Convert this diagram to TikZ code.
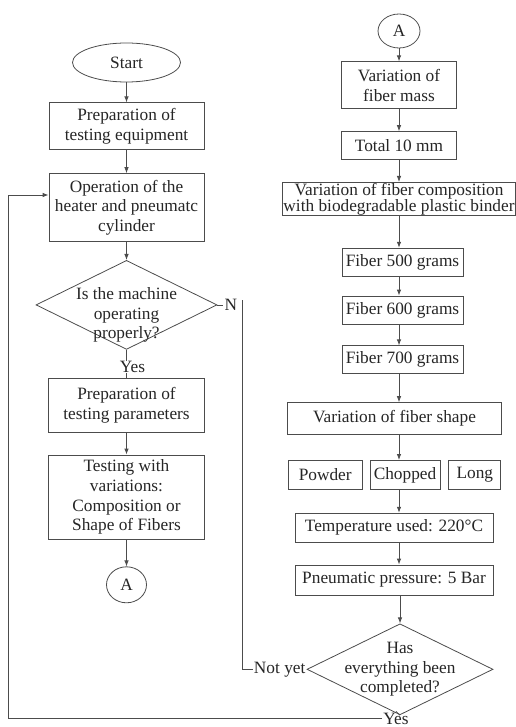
\documentclass[tikz,border=0pt]{standalone}
\usepackage{fontspec}
\setmainfont{Liberation Serif}
\usetikzlibrary{arrows.meta,positioning,shapes.geometric}

\begin{document}
\begin{tikzpicture}[
  x=1pt, y=-1pt,
  font=\fontsize{17.3}{19.8}\selectfont,
  proc/.style={draw=black!70, line width=0.8pt, fill=white, minimum width=155pt, align=center, inner sep=0pt, text=black!85},
  term/.style={draw=black!70, line width=0.8pt, ellipse, inner sep=0pt, text=black!85},
  decide/.style={draw=black!70, line width=0.8pt, diamond, inner sep=0pt, minimum width=181pt, minimum height=89pt},
  arr/.style={-{Latex[length=6pt,width=4.5pt]}, draw=black!70, line width=0.8pt},
  lnk/.style={draw=black!70, line width=0.8pt},
  lbl/.style={inner sep=1pt, align=center, text=black!85}
]
\useasboundingbox (0,0) rectangle (515,727);
% left column
\node[term, minimum width=108pt, minimum height=39pt] (start) at (126.5,62.5) {Start};
\node[proc, minimum height=47pt, below=20pt of start] (prepequip) {Preparation of\\testing equipment};
\node[proc, minimum height=68pt, below=23pt of prepequip] (operate) {Operation of the\\heater and pneumatc\\cylinder};
\node[decide, below=18pt of operate] (check) {};
\node[lbl] (checktxt) at ([yshift=-10pt]check.center) {Is the machine\\operating\\properly?};
\node[proc, minimum width=156pt, minimum height=54pt, below=28pt of check] (prepparam) {Preparation of\\testing parameters};
\node[proc, minimum width=156pt, minimum height=84pt, below=22pt of prepparam] (testing) {Testing with\\variations:\\Composition or\\Shape of Fibers};
\node[term, minimum width=40pt, minimum height=36pt, below=27pt of testing] (aleft) {A};
% right column
\node[term, minimum width=42pt, minimum height=34pt] (aright) at (399,31) {A};
\node[proc, minimum width=115pt, minimum height=47pt, below=13pt of aright] (fibermass) {Variation of\\fiber mass};
\node[proc, minimum width=115pt, minimum height=28pt, below=22pt of fibermass] (total) {Total 10 mm};
\node[proc, minimum width=233pt, minimum height=33pt, below=22pt of total, font=\fontsize{17.3}{16}\selectfont] (fibercomp) {Variation of fiber composition\\with biodegradable plastic binder};
\node[proc, minimum width=121pt, minimum height=28pt, below=32pt of fibercomp, xshift=3.5pt] (f500) {Fiber 500 grams};
\node[proc, minimum width=121pt, minimum height=28pt, below=19pt of f500] (f600) {Fiber 600 grams};
\node[proc, minimum width=121pt, minimum height=28pt, below=21pt of f600] (f700) {Fiber 700 grams};
\node[proc, minimum width=214pt, minimum height=32pt, below=28pt of f700, xshift=-8pt] (fibershape) {Variation of fiber shape};
\node[proc, minimum width=70pt, minimum height=29pt, below=25pt of fibershape, xshift=10.5pt] (chopped) {Chopped};
\node[proc, minimum width=74pt, minimum height=29pt, left=7pt of chopped] (powder) {Powder};
\node[proc, minimum width=52pt, minimum height=29pt, right=8pt of chopped] (long) {Long};
\node[proc, minimum width=198pt, minimum height=29pt, below=23pt of chopped, xshift=-11pt] (temp) {Temperature used: 220°C};
\node[proc, minimum width=198pt, minimum height=30pt, below=22pt of temp] (pressure) {Pneumatic pressure: 5 Bar};
\node[decide, minimum width=186pt, minimum height=91pt, below=28pt of pressure, xshift=6pt] (done) {};
\node[lbl] (donetxt) at (done.center) {Has\\everything been\\completed?};
% branch labels
\node[lbl, right=6pt of check.east] (nlabel) {N};
\node[lbl, anchor=east] (notyet) at (done.west) {Not yet};
\node[lbl, anchor=base] (yes2) at (396,724) {Yes};
% connectors
\draw[arr] (start) -- (prepequip);
\draw[arr] (prepequip) -- (operate);
\draw[arr] (operate) -- (check);
\draw[lnk] (check) -- (prepparam);
\node[lbl, fill=white, inner sep=0.5pt] (yes1) at ([xshift=6pt,yshift=-17pt]check.south) {Yes};
\draw[arr] (prepparam) -- (testing);
\draw[arr] (testing) -- (aleft);
\draw[arr] (aright) -- (fibermass);
\draw[arr] (fibermass) -- (total);
\draw[arr] (total) -- (fibercomp);
\draw[arr] (fibercomp.south) -- (fibercomp.south |- f500.north);
\draw[arr] (f500.south -| aright) -- (f600.north -| aright);
\draw[arr] (f600.south -| aright) -- (f700.north -| aright);
\draw[arr] (f700.south -| aright) -- (fibershape.north -| aright);
\draw[arr] (fibershape.south -| aright) -- (chopped.north -| aright);
\draw[arr] (chopped.south -| aright) -- (temp.north -| aright);
\draw[arr] (temp.south -| aright) -- (pressure.north -| aright);
\draw[arr] (pressure.south -| done.north) -- (done.north);
% loops
\draw[lnk] (check.east) -- (nlabel);
\draw[lnk] (notyet.west) -| ([xshift=4pt,yshift=5pt]nlabel.east);
\draw[lnk] (done.south) -- (yes2.north);
\coordinate (loopback) at (8,195);
\draw[arr] (yes2.west) -| (loopback) -- (loopback -| operate.west);
\end{tikzpicture}
\end{document}
